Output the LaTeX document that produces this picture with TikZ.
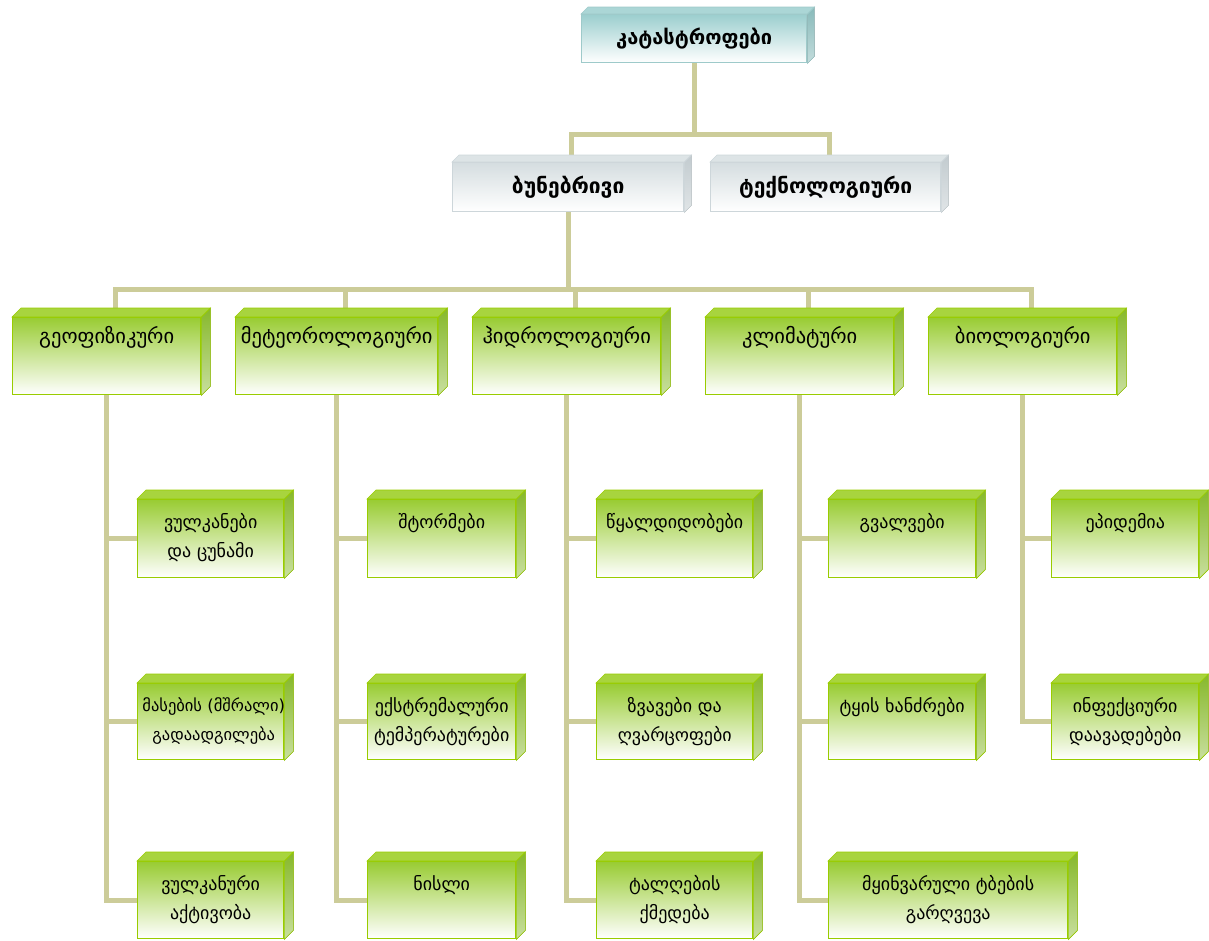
\documentclass[tikz,border=0pt]{standalone}
\usepackage{fontspec}
\usepackage{xcolor}
\usepackage{tikz}
\usetikzlibrary{positioning,calc,backgrounds}
\newfontfamily\geofont{DejaVu Sans}

\definecolor{connc}{HTML}{CCCC99}
\definecolor{grn}{HTML}{99CC33}
\definecolor{grnb}{HTML}{99CC00}
\definecolor{grnside}{HTML}{86B82A}
\definecolor{grntop}{HTML}{A8D43E}
\definecolor{tealc}{HTML}{9CCFCF}
\definecolor{tealb}{HTML}{9ECACA}
\definecolor{tealside}{HTML}{88BABA}
\definecolor{greyc}{HTML}{D5DDE0}
\definecolor{greyb}{HTML}{CDD6DA}
\definecolor{greyside}{HTML}{C2CBCF}

\tikzset{
    conn/.style={draw=connc, line width=5pt},
    box/.style={anchor=north west, inner sep=0pt, line width=1.4pt},
    gbox/.style={box, draw=grnb, top color=grn, middle color=grn!30!white, bottom color=white},
    lvl/.style={gbox, minimum width=188pt, minimum height=77pt},
    leaf/.style={gbox, minimum width=147pt, minimum height=78pt},
    txt/.style={anchor=north, align=center, font=\geofont\fontsize{18}{29}\selectfont, yshift=-11pt},
    lvltxt/.style={anchor=north, font=\geofont\fontsize{20.5}{24}\selectfont, yshift=-6pt},
    head/.style={box, font=\geofont\bfseries\fontsize{21}{24}\selectfont},
}

\begin{document}
\begin{tikzpicture}[x=1pt, y=-1pt]
    \useasboundingbox (0,0) rectangle (1209,940);

    % Top and second level
    \node[head, font=\geofont\bfseries\fontsize{20}{24}\selectfont, draw=tealb, top color=tealc, bottom color=white, minimum width=225pt, minimum height=48pt, text depth=4pt] (cat) at (581,14) {კატასტროფები};
    \node[head, draw=greyb, top color=greyc, bottom color=white, minimum width=231pt, minimum height=49pt] (nat) at (452,162) {ბუნებრივი};
    \node[head, draw=greyb, top color=greyc, bottom color=white, minimum width=230pt, minimum height=49pt] (tech) at (710,162) {ტექნოლოგიური};

    % Kinds of natural disasters
    \node[lvl, label={[lvltxt]north:გეოფიზიკური}] (geo) at (12,317) {};
    \node[lvl, minimum width=202pt, label={[lvltxt]north:მეტეოროლოგიური}] (met) at (235,317) {};
    \node[lvl, label={[lvltxt]north:ჰიდროლოგიური}] (hyd) at (472,317) {};
    \node[lvl, label={[lvltxt]north:კლიმატური}] (cli) at (705,317) {};
    \node[lvl, label={[lvltxt]north:ბიოლოგიური}] (bio) at (928,317) {};

    % Leaves
    \node[leaf, minimum width=146pt, label={[txt]north:ვულკანები\\და ცუნამი}] (geo1) at (137,499) {};
    \node[leaf, minimum width=146pt, minimum height=76pt, label={[txt, font=\geofont\fontsize{16.5}{29}\selectfont, xshift=3pt]north:მასების (მშრალი)\\გადაადგილება}] (geo2) at (137,683) {};
    \node[leaf, minimum width=146pt, minimum height=77pt, label={[txt]north:ვულკანური\\აქტივობა}] (geo3) at (137,861) {};

    \node[leaf, minimum width=148pt, label={[txt]north:შტორმები}] (met1) at (367,499) {};
    \node[leaf, minimum width=148pt, minimum height=76pt, label={[txt]north:ექსტრემალური\\ტემპერატურები}] (met2) at (367,683) {};
    \node[leaf, minimum width=148pt, minimum height=77pt, label={[txt]north:ნისლი}] (met3) at (367,861) {};

    \node[leaf, minimum width=156pt, label={[txt]north:წყალდიდობები}] (hyd1) at (596,499) {};
    \node[leaf, minimum width=156pt, minimum height=76pt, label={[txt]north:ზვავები და\\ღვარცოფები}] (hyd2) at (596,683) {};
    \node[leaf, minimum width=156pt, minimum height=77pt, label={[txt]north:ტალღების\\ქმედება}] (hyd3) at (596,861) {};

    \node[leaf, label={[txt]north:გვალვები}] (cli1) at (828,499) {};
    \node[leaf, minimum height=76pt, label={[txt]north:ტყის ხანძრები}] (cli2) at (828,683) {};
    \node[leaf, minimum width=239pt, minimum height=77pt, label={[txt]north:მყინვარული ტბების\\გარღვევა}] (cli3) at (828,861) {};

    \node[leaf, label={[txt]north:ეპიდემია}] (bio1) at (1051,499) {};
    \node[leaf, minimum height=76pt, label={[txt]north:ინფექციური\\დაავადებები}] (bio2) at (1051,683) {};

    % 3D faces
    \foreach \n in {geo,met,hyd,cli,bio,geo1,geo2,geo3,met1,met2,met3,hyd1,hyd2,hyd3,cli1,cli2,cli3,bio1,bio2} {
        \filldraw[draw=grnb, line width=0.6pt, top color=grnside, bottom color=grnside!45!white]
            (\n.north east) -- ++(9,-9) -- ([shift={(9,-9)}]\n.south east) -- (\n.south east) -- cycle;
        \filldraw[draw=grnb, line width=0.6pt, fill=grntop]
            (\n.north west) -- ++(9,-9) -- ([shift={(9,-9)}]\n.north east) -- (\n.north east) -- cycle;
    }
    \filldraw[draw=tealb, line width=0.6pt, top color=tealside, bottom color=tealside!50!white]
        (cat.north east) -- ++(7,-7) -- ([shift={(7,-7)}]cat.south east) -- (cat.south east) -- cycle;
    \filldraw[draw=tealb, line width=0.6pt, fill=tealc!85!white]
        (cat.north west) -- ++(7,-7) -- ([shift={(7,-7)}]cat.north east) -- (cat.north east) -- cycle;
    \foreach \n in {nat,tech} {
        \filldraw[draw=greyb, line width=0.6pt, top color=greyside, bottom color=greyside!50!white]
            (\n.north east) -- ++(7,-7) -- ([shift={(7,-7)}]\n.south east) -- (\n.south east) -- cycle;
        \filldraw[draw=greyb, line width=0.6pt, fill=greyc!80!white]
            (\n.north west) -- ++(7,-7) -- ([shift={(7,-7)}]\n.north east) -- (\n.north east) -- cycle;
    }

    % Connectors
    \begin{scope}[on background layer]
        \draw[conn] (cat.south) -- ++(0,71) -| ([xshift=3pt]nat.north);
        \draw[conn] (cat.south) -- ++(0,71) -| ([xshift=4pt]tech.north);
        \foreach \k in {geo,met,hyd,cli,bio} {
            \draw[conn] (nat.south) -- ++(0,77) -| ([xshift=9pt]\k.north);
        }
        \foreach \p/\c in {geo/geo1,geo/geo2,geo/geo3,met/met1,met/met2,met/met3,hyd/hyd1,hyd/hyd2,hyd/hyd3,cli/cli1,cli/cli2,cli/cli3,bio/bio1,bio/bio2} {
            \draw[conn] (\p.south) |- (\c.west);
        }
    \end{scope}
\end{tikzpicture}
\end{document}
